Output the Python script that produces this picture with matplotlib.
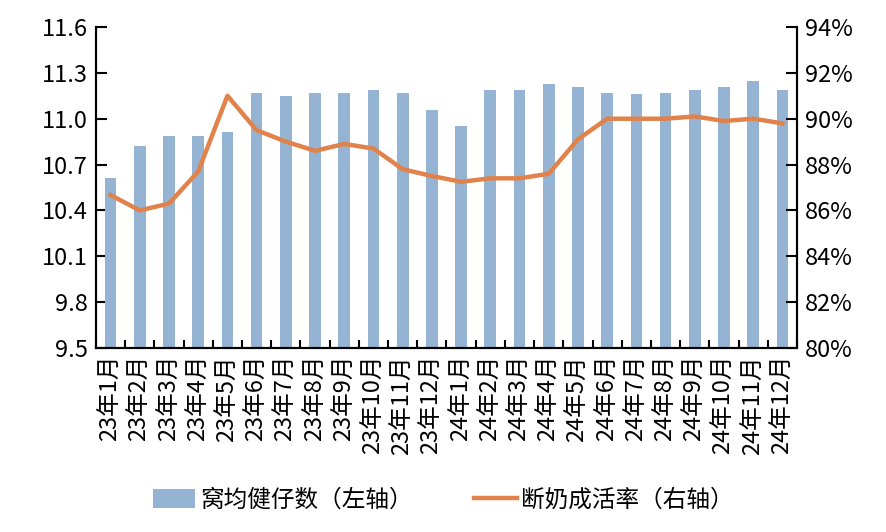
import matplotlib
matplotlib.use("Agg")
import matplotlib.pyplot as plt
import numpy as np

plt.rcParams["font.family"] = ["Noto Sans CJK SC", "DejaVu Sans"]

months = ["23年1月", "23年2月", "23年3月", "23年4月", "23年5月", "23年6月",
          "23年7月", "23年8月", "23年9月", "23年10月", "23年11月", "23年12月",
          "24年1月", "24年2月", "24年3月", "24年4月", "24年5月", "24年6月",
          "24年7月", "24年8月", "24年9月", "24年10月", "24年11月", "24年12月"]
# 窝均健仔数 (left axis)
litter = [10.61, 10.82, 10.89, 10.89, 10.91, 11.17, 11.15, 11.17, 11.17, 11.19, 11.17, 11.06,
          10.95, 11.19, 11.19, 11.23, 11.21, 11.17, 11.16, 11.17, 11.19, 11.21, 11.25, 11.19]
# 断奶成活率 (right axis, %)
survival = [86.67, 86.0, 86.3, 87.7, 91.0, 89.5, 89.0, 88.6, 88.9, 88.7, 87.8, 87.5,
            87.25, 87.4, 87.4, 87.6, 89.1, 90.0, 90.0, 90.0, 90.1, 89.9, 90.0, 89.8]

bar_color = "#95B4D3"
line_color = "#E0824A"
fs = 17

fig = plt.figure(figsize=(8.87, 5.32), dpi=100)
ax = fig.add_axes([96 / 887, 1 - 348 / 532, 701 / 887, 321 / 532])
x = np.arange(len(months))

bars = ax.bar(x, litter, width=0.4, color=bar_color, label="窝均健仔数（左轴）", zorder=2)
ax.set_xlim(-0.5, len(months) - 0.5)
ax.set_ylim(9.5, 11.6)
ax.set_yticks(np.arange(9.5, 11.61, 0.3))
ax.set_yticklabels([f"{v:.1f}" for v in np.arange(9.5, 11.61, 0.3)], fontsize=fs)

ax.set_xticks(np.arange(-0.5, len(months), 1.0))
ax.set_xticklabels([])
ax.set_xticks(x, minor=True)
ax.set_xticklabels(months, minor=True, rotation=90, fontsize=fs)
ax.tick_params(axis="x", which="major", direction="in", length=6, width=1.5)
ax.tick_params(axis="x", which="minor", length=0, pad=5)
ax.tick_params(axis="y", direction="in", length=8, width=1.5, pad=6)

ax2 = ax.twinx()
line, = ax2.plot(x, survival, color=line_color, lw=3.2, label="断奶成活率（右轴）", zorder=3)
ax2.set_ylim(80, 94)
ax2.set_yticks(np.arange(80, 95, 2))
ax2.set_yticklabels([f"{v}%" for v in range(80, 95, 2)], fontsize=fs)
ax2.tick_params(axis="y", direction="in", length=8, width=1.5, pad=6)

for a in (ax, ax2):
    a.spines["top"].set_visible(False)
    for s in ("left", "right", "bottom"):
        a.spines[s].set_linewidth(1.5)

fig.legend(handles=[bars, line], loc="center", bbox_to_anchor=(0.5, 32 / 532), ncol=2,
           frameon=False, fontsize=fs, handlelength=1.8, handleheight=0.9,
           columnspacing=2.6, handletextpad=0.2)

fig.savefig("out.png", dpi=100)
